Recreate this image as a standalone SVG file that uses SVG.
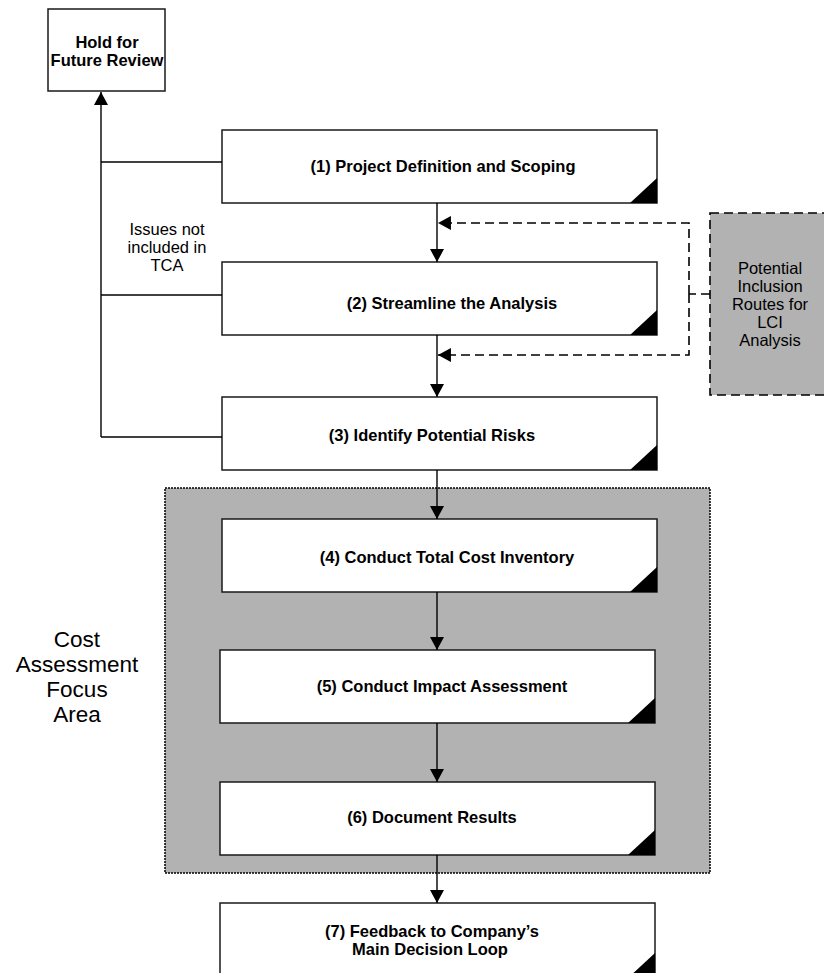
<svg xmlns="http://www.w3.org/2000/svg" width="824" height="973" viewBox="0 0 824 973">
<style>
.box{fill:#fff;stroke:#1a1a1a;stroke-width:1.5}
.tri{fill:#000}
.lbl{font-family:"Liberation Sans",Arial,sans-serif;font-size:16.5px;font-weight:bold;fill:#000;text-anchor:middle}
.reg{font-family:"Liberation Sans",Arial,sans-serif;font-size:16.5px;fill:#000;text-anchor:middle}
.big{font-family:"Liberation Sans",Arial,sans-serif;font-size:22.5px;fill:#000;text-anchor:middle}
.ln{fill:none;stroke:#000;stroke-width:1.4}
.dash{fill:none;stroke:#000;stroke-width:1.6;stroke-dasharray:9 5}
</style>
<defs>
<marker id="ah" markerUnits="userSpaceOnUse" markerWidth="14" markerHeight="14" viewBox="0 0 12 13" refX="12" refY="6.5" orient="auto">
<path d="M0,0 L12,6.5 L0,13 z" fill="#000"/>
</marker>
</defs>

<g id="cost-area">
<rect x="165" y="488" width="545" height="385" fill="#b2b2b2" stroke="#000" stroke-width="1.5" stroke-dasharray="2 1"/>
<text class="big" x="77" y="647">Cost</text>
<text class="big" x="77" y="672">Assessment</text>
<text class="big" x="77" y="697">Focus</text>
<text class="big" x="77" y="722">Area</text>
</g>

<g id="hold">
<rect class="box" x="48" y="9" width="117" height="82"/>
<text class="lbl" x="107" y="48">Hold for</text>
<text class="lbl" x="107" y="66">Future Review</text>
</g>

<g id="lci">
<rect x="710" y="213" width="120" height="182" fill="#b2b2b2" stroke="#000" stroke-width="1.6" stroke-dasharray="9 5"/>
<text class="reg" x="770" y="274">Potential</text>
<text class="reg" x="770" y="292">Inclusion</text>
<text class="reg" x="770" y="310">Routes for</text>
<text class="reg" x="770" y="328">LCI</text>
<text class="reg" x="770" y="346">Analysis</text>
</g>

<g id="issues-label">
<text class="reg" x="167" y="235">Issues not</text>
<text class="reg" x="167" y="253">included in</text>
<text class="reg" x="167" y="271">TCA</text>
</g>

<g id="step1">
<rect class="box" x="222" y="130" width="435" height="73"/>
<polygon class="tri" points="630,203 657,178 657,203"/>
<text class="lbl" x="443" y="172">(1) Project Definition and Scoping</text>
</g>
<g id="step2">
<rect class="box" x="222" y="262" width="435" height="73"/>
<polygon class="tri" points="630,335 657,310 657,335"/>
<text class="lbl" x="452" y="309">(2) Streamline the Analysis</text>
</g>
<g id="step3">
<rect class="box" x="222" y="397" width="435" height="73"/>
<polygon class="tri" points="630,470 657,445 657,470"/>
<text class="lbl" x="432" y="441">(3) Identify Potential Risks</text>
</g>
<g id="step4">
<rect class="box" x="222" y="519" width="435" height="73"/>
<polygon class="tri" points="630,592 657,567 657,592"/>
<text class="lbl" x="447" y="563">(4) Conduct Total Cost Inventory</text>
</g>
<g id="step5">
<rect class="box" x="220" y="650" width="435" height="73"/>
<polygon class="tri" points="628,723 655,698 655,723"/>
<text class="lbl" x="442" y="692">(5) Conduct Impact Assessment</text>
</g>
<g id="step6">
<rect class="box" x="220" y="782" width="435" height="73"/>
<polygon class="tri" points="628,855 655,830 655,855"/>
<text class="lbl" x="432" y="823">(6) Document Results</text>
</g>
<g id="step7">
<rect class="box" x="220" y="903" width="435" height="75"/>
<polygon class="tri" points="628,978 655,953 655,978"/>
<text class="lbl" x="432" y="937">(7) Feedback to Company’s</text>
<text class="lbl" x="430" y="955">Main Decision Loop</text>
</g>

<g id="connectors">
<path class="ln" d="M101,437 L101,92" marker-end="url(#ah)"/>
<path class="ln" d="M101,162 L222,162"/>
<path class="ln" d="M101,295 L222,295"/>
<path class="ln" d="M101,437 L222,437"/>
<path class="ln" d="M437,203 L437,262" marker-end="url(#ah)"/>
<path class="ln" d="M437,335 L437,397" marker-end="url(#ah)"/>
<path class="ln" d="M437,470 L437,519" marker-end="url(#ah)"/>
<path class="ln" d="M437,592 L437,650" marker-end="url(#ah)"/>
<path class="ln" d="M437,723 L437,782" marker-end="url(#ah)"/>
<path class="ln" d="M437,855 L437,903" marker-end="url(#ah)"/>
<path class="dash" d="M710,294 L689,294"/>
<path class="dash" d="M689,294 L689,223 L438,223" marker-end="url(#ah)"/>
<path class="dash" d="M689,294 L689,355 L438,355" marker-end="url(#ah)"/>
</g>
</svg>
